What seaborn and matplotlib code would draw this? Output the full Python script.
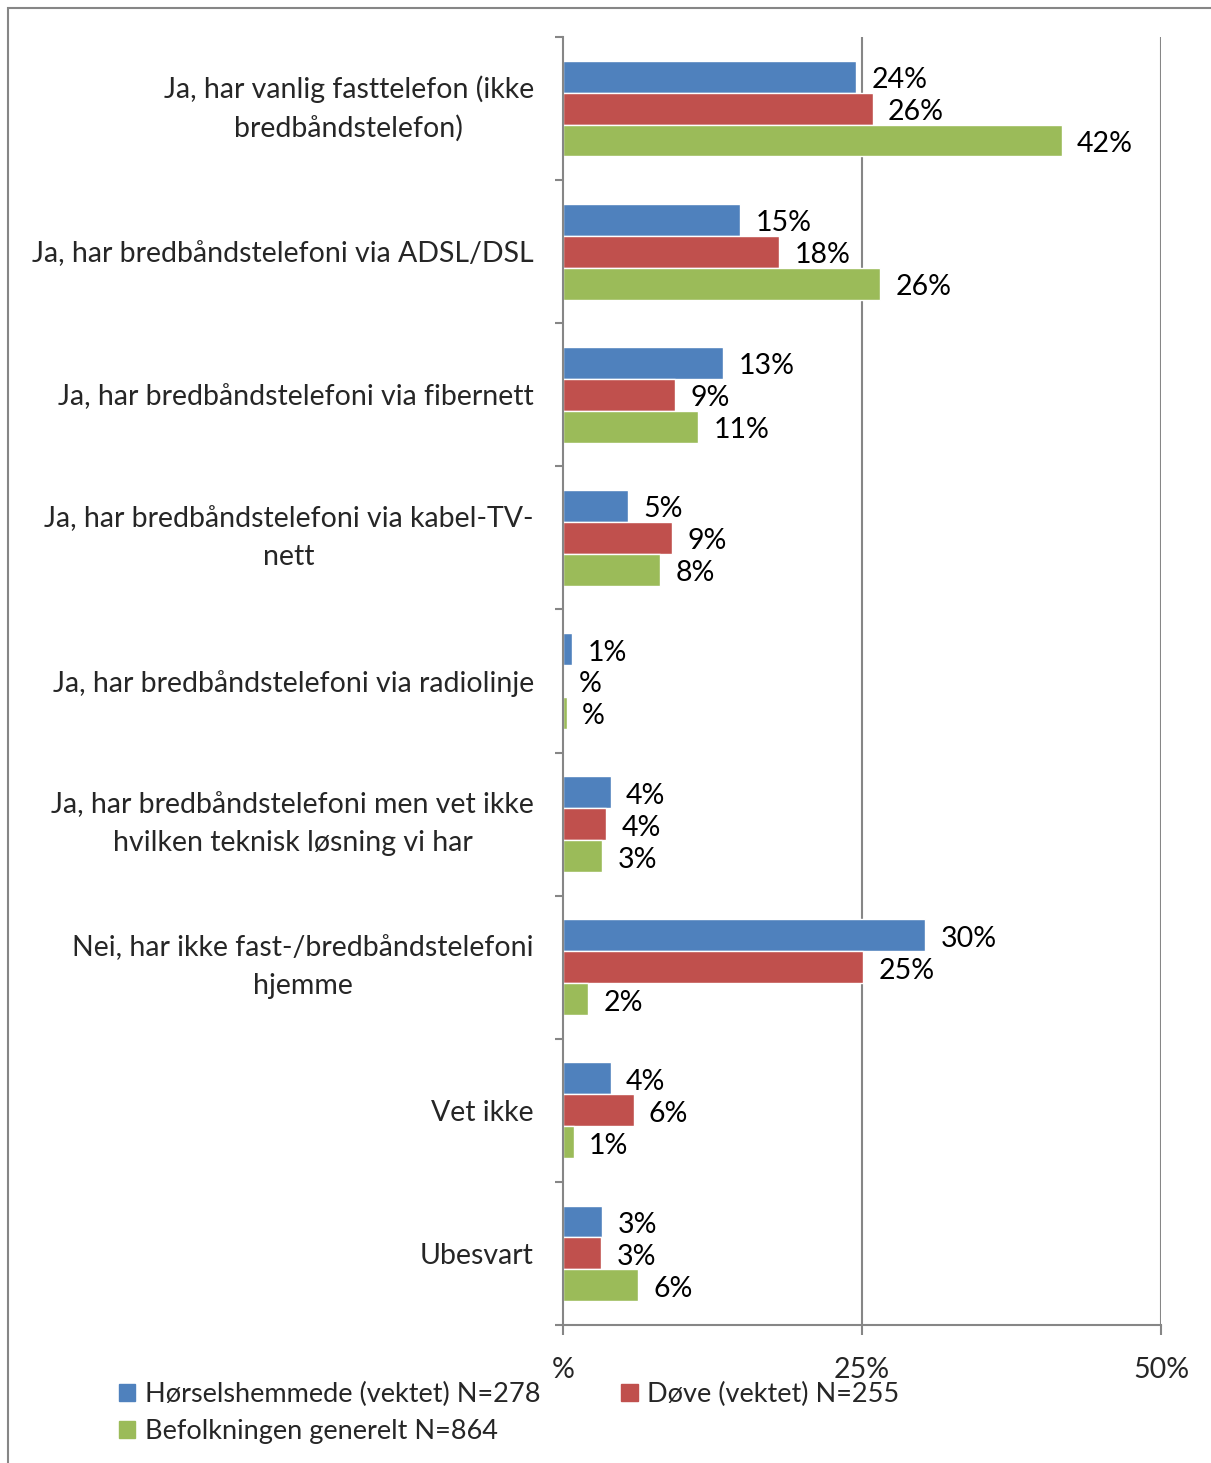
import matplotlib
matplotlib.use("Agg")
import matplotlib.pyplot as plt
import matplotlib.patches as mpatches
import seaborn as sns
import pandas as pd

# Data
categories = [
    "Ja, har vanlig fasttelefon (ikke\nbredbåndstelefon)",
    "Ja, har bredbåndstelefoni via ADSL/DSL",
    "Ja, har bredbåndstelefoni via fibernett",
    "Ja, har bredbåndstelefoni via kabel-TV-\nnett",
    "Ja, har bredbåndstelefoni via radiolinje",
    "Ja, har bredbåndstelefoni men vet ikke\nhvilken teknisk løsning vi har",
    "Nei, har ikke fast-/bredbåndstelefoni\nhjemme",
    "Vet ikke",
    "Ubesvart",
]
series = [
    "Hørselshemmede (vektet) N=278",
    "Døve (vektet) N=255",
    "Befolkningen generelt N=864",
]
hoerselshemmede = [24.5, 14.8, 13.4, 5.4, 0.75, 4.0, 30.3, 4.0, 3.3]
doeve = [25.9, 18.1, 9.4, 9.1, 0.0, 3.6, 25.1, 5.9, 3.2]
befolkningen = [41.7, 26.5, 11.3, 8.1, 0.33, 3.3, 2.1, 0.9, 6.3]

labels_hoersel = ["24%", "15%", "13%", "5%", "1%", "4%", "30%", "4%", "3%"]
labels_doeve = ["26%", "18%", "9%", "9%", "%", "4%", "25%", "6%", "3%"]
labels_befolk = ["42%", "26%", "11%", "8%", "%", "3%", "2%", "1%", "6%"]

x_ticks = [0, 25, 50]
x_ticklabels = ["%", "25%", "50%"]

colors = ["#4F81BD", "#C0504D", "#9BBB59"]
grey = "#868686"

sns.set_style("white")
plt.rcParams["font.family"] = ["Lato", "DejaVu Sans"]
fs = 20.5

df = pd.DataFrame({
    "category": categories * 3,
    "value": hoerselshemmede + doeve + befolkningen,
    "series": [s for s in series for _ in categories],
})

fig = plt.figure(figsize=(12.11, 14.63), dpi=100)
ax = fig.add_axes([563 / 1211, 1 - 1325 / 1463, (1161 - 563) / 1211, (1325 - 37) / 1463])

sns.barplot(data=df, x="value", y="category", hue="series", orient="h",
            palette=colors, width=0.67, saturation=1, ax=ax, legend=False,
            order=categories, hue_order=series)

# value labels, nudged a little below the bar centre like the original
for cont, labs in zip(ax.containers, [labels_hoersel, labels_doeve, labels_befolk]):
    for t in ax.bar_label(cont, labels=labs, padding=11, fontsize=fs, color="black"):
        t.xyann = (11, -2.5)

ax.set_xlim(0, 50)
ax.set_ylim(len(categories) - 0.5, -0.5)
ax.set_xlabel("")
ax.set_ylabel("")

# axes styling
for side in ["top", "right"]:
    ax.spines[side].set_visible(False)
for side in ["left", "bottom"]:
    ax.spines[side].set_color(grey)
    ax.spines[side].set_linewidth(1.5)

ax.set_xticks(x_ticks)
ax.set_xticklabels(x_ticklabels, fontsize=fs)
ax.tick_params(axis="x", length=7, width=1.5, color=grey, pad=16, direction="out", bottom=True)
for xv in x_ticks[1:]:
    ax.axvline(xv, color=grey, lw=1.5, zorder=0)

ax.set_yticks(range(len(categories)))
ax.set_yticklabels(categories, fontsize=fs, multialignment="center", linespacing=1.55)
for t in ax.get_yticklabels():
    if "\n" in t.get_text():
        t.set_va("center")
ax.tick_params(axis="y", which="major", length=0, pad=21)
ax.set_yticks([i - 0.5 for i in range(len(categories) + 1)], minor=True)
ax.tick_params(axis="y", which="minor", length=6, width=1.5, color=grey, left=True, direction="out")

# legend
handles = [mpatches.Patch(color=colors[0], label=series[0]),
           mpatches.Patch(color=colors[2], label=series[2]),
           mpatches.Patch(color=colors[1], label=series[1])]
fig.legend(handles=handles, ncol=2, loc="upper left", bbox_to_anchor=(119 / 1211, 1 - 1382 / 1463),
           frameon=False, fontsize=19.5, handlelength=0.6, handleheight=0.6, handletextpad=0.35,
           columnspacing=3.0, labelspacing=0.45, borderaxespad=0, borderpad=0)

# outer chart border (only top and left edges visible in the frame)
fig.add_artist(mpatches.Rectangle((8 / 1211, -0.1), 1.2, 1 - 8 / 1463 + 0.1,
                                  transform=fig.transFigure, fill=False,
                                  edgecolor=grey, lw=1.5, clip_on=False))

fig.savefig("out.png", dpi=100)
